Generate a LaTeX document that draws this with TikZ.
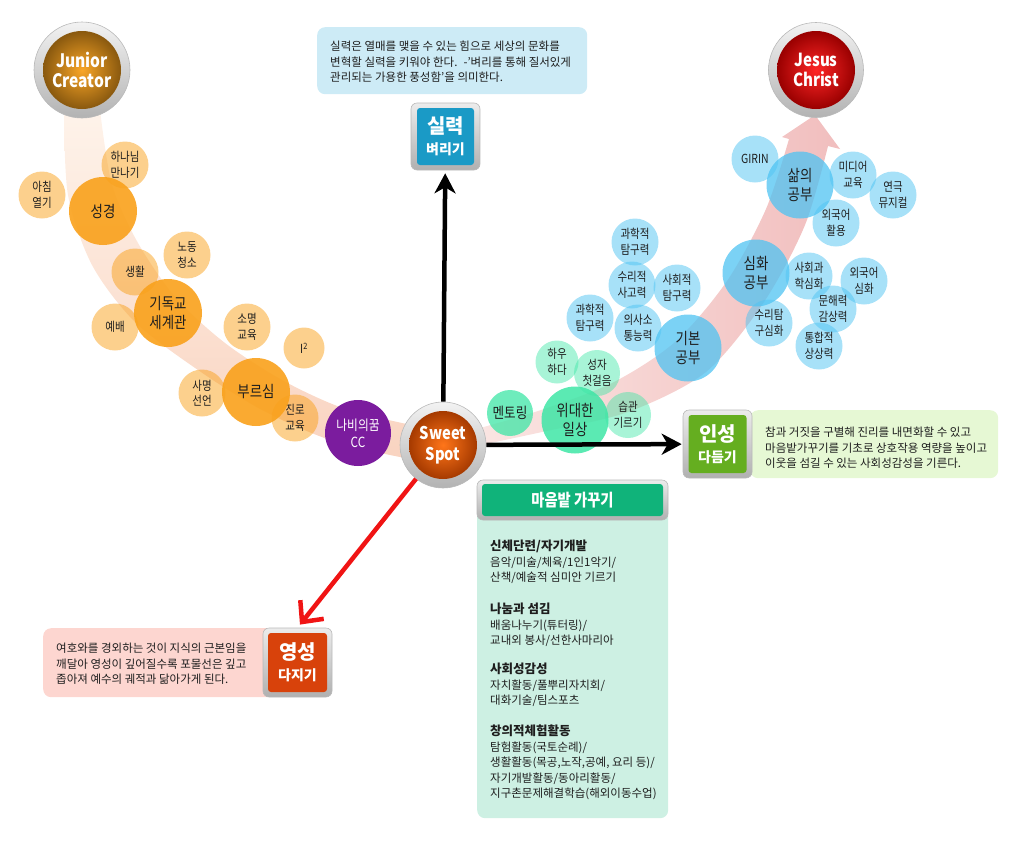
\documentclass[tikz,border=0pt]{standalone}
\usepackage{fontspec}
\setmainfont{Noto Sans CJK KR}
\newfontfamily\condf{Noto Sans CJK KR}[FakeStretch=0.84]
\usetikzlibrary{arrows.meta,calc}
\definecolor{orB}{HTML}{F9A11B}
\definecolor{blB}{HTML}{4FC3F2}
\definecolor{grB}{HTML}{3EE6A6}
\definecolor{txt}{HTML}{1E1E1E}
\definecolor{bandA}{HTML}{FEF3EA}
\definecolor{bandB}{HTML}{F9D3C0}
\definecolor{pinkA}{HTML}{FBE7E4}
\definecolor{pinkB}{HTML}{F1BEBE}
\definecolor{silB}{HTML}{1A9AC6}
\definecolor{insG}{HTML}{65AE20}
\definecolor{yeoR}{HTML}{D8420B}
\definecolor{maumG}{HTML}{10B37A}
\definecolor{skyT}{HTML}{CDEBF6}
\definecolor{limeT}{HTML}{E6F8D4}
\definecolor{roseT}{HTML}{FDD6D0}
\definecolor{mintT}{HTML}{CDF0E3}
\definecolor{purp}{HTML}{7B1C9E}
\definecolor{redA}{HTML}{F01414}
\begin{document}
\begin{tikzpicture}[x=1pt,y=-1pt,
  cir/.style={circle,inner sep=0pt,align=center,text=txt,text opacity=1},
  sO/.style={cir,minimum size=47pt,fill=orB,fill opacity=0.5,font=\condf\fontsize{12.5}{15.5}\selectfont},
  bO/.style={cir,minimum size=68pt,fill=orB,fill opacity=0.9,font=\condf\fontsize{16}{19}\selectfont},
  sB/.style={cir,minimum size=47pt,fill=blB,fill opacity=0.5,font=\condf\fontsize{12.5}{15.5}\selectfont},
  bB/.style={cir,minimum size=67pt,fill=blB,fill opacity=0.75,font=\condf\fontsize{16}{19}\selectfont},
  sG/.style={cir,minimum size=46pt,fill=grB,fill opacity=0.45,font=\condf\fontsize{12.5}{15.5}\selectfont},
  bG/.style={cir,minimum size=67pt,fill=grB,fill opacity=0.85,font=\condf\fontsize{16}{19}\selectfont},
  ring/.style={circle,inner sep=0pt,top color=gray!10,bottom color=gray!60,draw=gray!55,line width=0.6pt},
  frame/.style={rounded corners=6pt,top color=gray!15,bottom color=gray!62,draw=gray!55,line width=0.6pt,inner sep=0pt},
  inbox/.style={rounded corners=3pt,inner sep=0pt,align=center,text=white},
  bgbox/.style={rounded corners=8pt,inner sep=0pt,anchor=north west},
  txtbox/.style={inner sep=0pt,align=left,text=txt,font=\fontsize{11.5}{15.5}\selectfont},
  hd/.style={},
  blk/.style={line width=4.5pt,-{Stealth[length=20pt,width=21pt,inset=6pt]}},
  redarr/.style={draw=redA,line width=4.5pt,-{Straight Barb[length=16pt,width=30pt]}}
]
\useasboundingbox (0,0) rectangle (1023,841);

% bands
\shade[top color=bandA,bottom color=bandB]
  plot[smooth] coordinates {(64,110) (68,195) (92,265) (135,322) (198,370) (262,410) (330,440) (400,457) (445,462)}
  -- plot[smooth] coordinates {(445,430) (402,423) (340,407) (282,380) (225,343) (176,298) (138,243) (112,185) (100,110)}
  -- cycle;
\shade[left color=pinkA,right color=pinkB]
  plot[smooth] coordinates {(462,433) (538,411) (612,383) (675,342) (727,281) (766,209) (789,139)}
  -- (782,137) -- (815,115) -- (840,149) -- (828,146)
  -- plot[smooth] coordinates {(828,146) (805,225) (764,302) (706,372) (628,412) (542,432) (462,449)}
  -- cycle;

% text boxes
\node[bgbox,fill=skyT,minimum width=270pt,minimum height=67pt] (topbox) at (317,27) {};
\node[txtbox,anchor=west] (toptext) at (330,62)
 {실력은 열매를 맺을 수 있는 힘으로 세상의 문화를\\변혁할 실력을 키워야 한다.~ -'벼리를 통해 질서있게\\관리되는 가용한 풍성함'을 의미한다.};
\node[bgbox,fill=limeT,minimum width=248pt,minimum height=68pt] (rbox) at (750,410) {};
\node[txtbox,anchor=west] (rtext) at (765,448)
 {참과 거짓을 구별해 진리를 내면화할 수 있고\\마음밭가꾸기를 기초로 상호작용 역량을 높이고\\이웃을 섬길 수 있는 사회성감성을 기른다.};
\node[bgbox,fill=roseT,minimum width=232pt,minimum height=69pt] (lbox) at (43,628) {};
\node[txtbox,anchor=west] (ltext) at (56,664)
 {여호와를 경외하는 것이 지식의 근본임을\\깨달아 영성이 깊어질수록 포물선은 깊고\\좁아져 예수의 궤적과 닮아가게 된다.};
\node[bgbox,fill=mintT,minimum width=191pt,minimum height=310pt] (mbox) at (477,508) {};

% left circles (orange)
\node[sO] (c1) at (125,165) {하나님\\만나기};
\node[sO] (c2) at (42,195) {아침\\열기};
\node[sO] (c3) at (187,255) {노동\\청소};
\node[sO] (c4) at (135,272) {생활};
\node[sO] (c5) at (115,327) {예배};
\node[sO] (c6) at (247,327) {소명\\교육};
\node[sO,minimum size=41pt] (c7) at (304,348) {I\textsuperscript{2}};
\node[sO] (c8) at (202,393) {사명\\선언};
\node[sO] (c9) at (295,418) {진로\\교육};
\node[bO] (b1) at (103,211) {성경};
\node[bO] (b2) at (168,313) {기독교\\세계관};
\node[bO] (b3) at (256,392) {부르심};
\node[cir,minimum size=66pt,fill=purp,text=white,font=\condf\fontsize{14}{17}\selectfont] (nabi) at (358,433) {나비의꿈\\CC};

% green circles
\node[sG,minimum size=43pt] (g1) at (557,362) {하우\\하다};
\node[sG] (g2) at (597,373) {성자\\첫걸음};
\node[sG] (g3) at (628,415) {습관\\기르기};
\node[sG,fill opacity=0.75,font=\condf\fontsize{15}{17}\selectfont] (g4) at (510,413) {멘토링};
\node[bG] (g5) at (575,420) {위대한\\일상};

% blue circles
\node[sB] (u1) at (635,242) {과학적\\탐구력};
\node[sB] (u2) at (632,285) {수리적\\사고력};
\node[sB] (u3) at (677,288) {사회적\\탐구력};
\node[sB] (u4) at (590,318) {과학적\\탐구력};
\node[sB] (u5) at (638,328) {의사소\\통능력};
\node[sB] (u6) at (755,159) {GIRIN};
\node[sB] (u7) at (853,175) {미디어\\교육};
\node[sB] (u8) at (893,195) {연극\\뮤지컬};
\node[sB] (u9) at (836,223) {외국어\\활용};
\node[sB] (u10) at (809,276) {사회과\\학심화};
\node[sB] (u11) at (864,281) {외국어\\심화};
\node[sB] (u12) at (833,309) {문해력\\감상력};
\node[sB] (u13) at (769,323) {수리탐\\구심화};
\node[sB] (u14) at (819,346) {통합적\\상상력};
\node[bB] (k1) at (688,348) {기본\\공부};
\node[bB] (k2) at (756,273) {심화\\공부};
\node[bB] (k3) at (800,185) {삶의\\공부};

% big end circles
\node[ring,minimum size=96pt] (jc) at (82,70) {};
\node[circle,inner sep=0pt,minimum size=78pt,shading=radial,inner color=orB!95!white,outer color=orB!55!black,text=white,align=center,font=\condf\bfseries\fontsize{18.5}{20}\selectfont] (jcin) at (jc) {Junior\\Creator};
\node[ring,minimum size=95pt] (jes) at (816,70) {};
\node[circle,inner sep=0pt,minimum size=78pt,shading=radial,inner color=red!85!white,outer color=red!60!black,text=white,align=center,font=\condf\bfseries\fontsize{18}{19.5}\selectfont] (jesin) at (jes) {Jesus\\Christ};
\node[ring,minimum size=86pt] (ss) at (443,445) {};
\node[circle,inner sep=0pt,minimum size=68pt,shading=radial,inner color=orange!80!red!90!white,outer color=orange!70!red!65!black,text=white,align=center,font=\condf\bfseries\fontsize{17.5}{21}\selectfont] (ssin) at (ss) {Sweet\\Spot};

% framed labels
\node[frame,minimum width=69pt,minimum height=67pt] (sil) at (445.5,136.5) {};
\node[inbox,fill=silB,minimum size=57pt] (silin) at (sil) {\fontsize{20}{22}\selectfont\bfseries 실력\\[6.5pt]\fontsize{14}{16}\selectfont\bfseries 벼리기};
\node[frame,minimum width=69pt,minimum height=68pt] (ins) at (717.5,444) {};
\node[inbox,fill=insG,minimum size=58pt] (insin) at (ins) {\fontsize{20}{22}\selectfont\bfseries 인성\\[6.5pt]\fontsize{14}{16}\selectfont\bfseries 다듬기};
\node[frame,minimum width=69pt,minimum height=69pt] (yeo) at (297.5,662.5) {};
\node[inbox,fill=yeoR,minimum size=59pt] (yeoin) at (yeo) {\fontsize{20}{22}\selectfont\bfseries 영성\\[6.5pt]\fontsize{14}{16}\selectfont\bfseries 다지기};
\node[frame,minimum width=191pt,minimum height=40pt] (maum) at (572.5,500) {};
\node[inbox,fill=maumG,minimum width=181pt,minimum height=32pt] (maumin) at (maum) {\condf\bfseries\fontsize{17}{19}\selectfont 마음밭 가꾸기};

% mint box contents
\node[txtbox,anchor=north west] (m1) at (490,540) {{\fontsize{12.5}{15.5}\selectfont\bfseries 신체단련/자기개발}\\음악/미술/체육/1인1악기/\\산책/예술적 심미안 기르기};
\node[txtbox,anchor=north west] (m2) at (490,603) {{\fontsize{12.5}{15.5}\selectfont\bfseries 나눔과 섬김}\\배움나누기(튜터링)/\\교내외 봉사/선한사마리아};
\node[txtbox,anchor=north west] (m3) at (490,663) {{\fontsize{12.5}{15.5}\selectfont\bfseries 사회성감성}\\자치활동/풀뿌리자치회/\\대화기술/팀스포츠};
\node[txtbox,anchor=north west] (m4) at (490,725) {{\fontsize{12.5}{15.5}\selectfont\bfseries 창의적체험활동}\\탐험활동(국토순례)/\\생활활동(목공,노작,공예, 요리 등)/\\자기개발활동/동아리활동/\\지구촌문제해결학습(해외이동수업)};

% arrows
\draw[blk,shorten >=3pt] (ss) -- (sil);
\draw[blk,shorten >=1pt] (ss) -- (ins);
\draw[redarr,shorten >=4pt] (ss) -- (yeo.north);
\end{tikzpicture}
\end{document}
